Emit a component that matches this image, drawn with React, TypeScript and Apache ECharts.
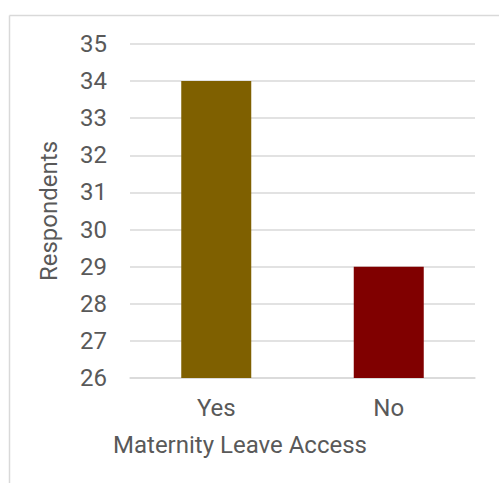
import React, { useEffect, useRef } from "react";
import * as echarts from "echarts";

const categories = ["Yes", "No"];
const respondents = [34, 29];
const barColors = ["#7F6000", "#800000"];
const yMin = 26;
const yMax = 35;
const xAxisTitle = "Maternity Leave Access";
const yAxisTitle = "Respondents";

export default function App() {
  const ref = useRef<HTMLDivElement>(null);
  useEffect(() => {
    if (!ref.current) return;
    const chart = echarts.init(ref.current, null, { renderer: "svg" });
    const font = "Roboto, 'Noto Sans', sans-serif";
    chart.setOption({
      animation: false,
      backgroundColor: "#ffffff",
      grid: { left: 130, right: 24, top: 44, bottom: 105 },
      xAxis: {
        type: "category",
        data: categories,
        axisTick: { show: false },
        axisLine: { lineStyle: { color: "#d9d9d9", width: 1.5 } },
        axisLabel: { color: "#595959", fontSize: 24, fontFamily: font, margin: 18 },
      },
      yAxis: {
        type: "value",
        min: yMin,
        max: yMax,
        interval: 1,
        name: yAxisTitle,
        nameLocation: "middle",
        nameGap: 69,
        nameTextStyle: { color: "#595959", fontSize: 24, fontFamily: font },
        axisLabel: { color: "#595959", fontSize: 24, fontFamily: font, margin: 23 },
        splitLine: { lineStyle: { color: "#d9d9d9", width: 1.5 } },
        axisLine: { show: false },
        axisTick: { show: false },
      },
      series: [
        {
          type: "bar",
          barWidth: 70,
          data: respondents.map((v, i) => ({ value: v, itemStyle: { color: barColors[i] } })),
        },
      ],
      graphic: [
        {
          type: "line",
          shape: { x1: 9.5, y1: 15.5, x2: 499, y2: 15.5 },
          style: { stroke: "#d9d9d9", lineWidth: 1.5 },
        },
        {
          type: "line",
          shape: { x1: 9.5, y1: 15.5, x2: 9.5, y2: 483 },
          style: { stroke: "#d9d9d9", lineWidth: 1.5 },
        },
        {
          type: "text",
          x: 240,
          y: 445,
          style: {
            text: xAxisTitle,
            fill: "#595959",
            fontSize: 24,
            fontFamily: font,
            textAlign: "center",
            textVerticalAlign: "middle",
          },
        },
      ],
    });
    return () => chart.dispose();
  }, []);
  return (
    <div
      ref={ref}
      style={{ position: "fixed", left: 0, top: 0, width: 499, height: 483 }}
    />
  );
}
